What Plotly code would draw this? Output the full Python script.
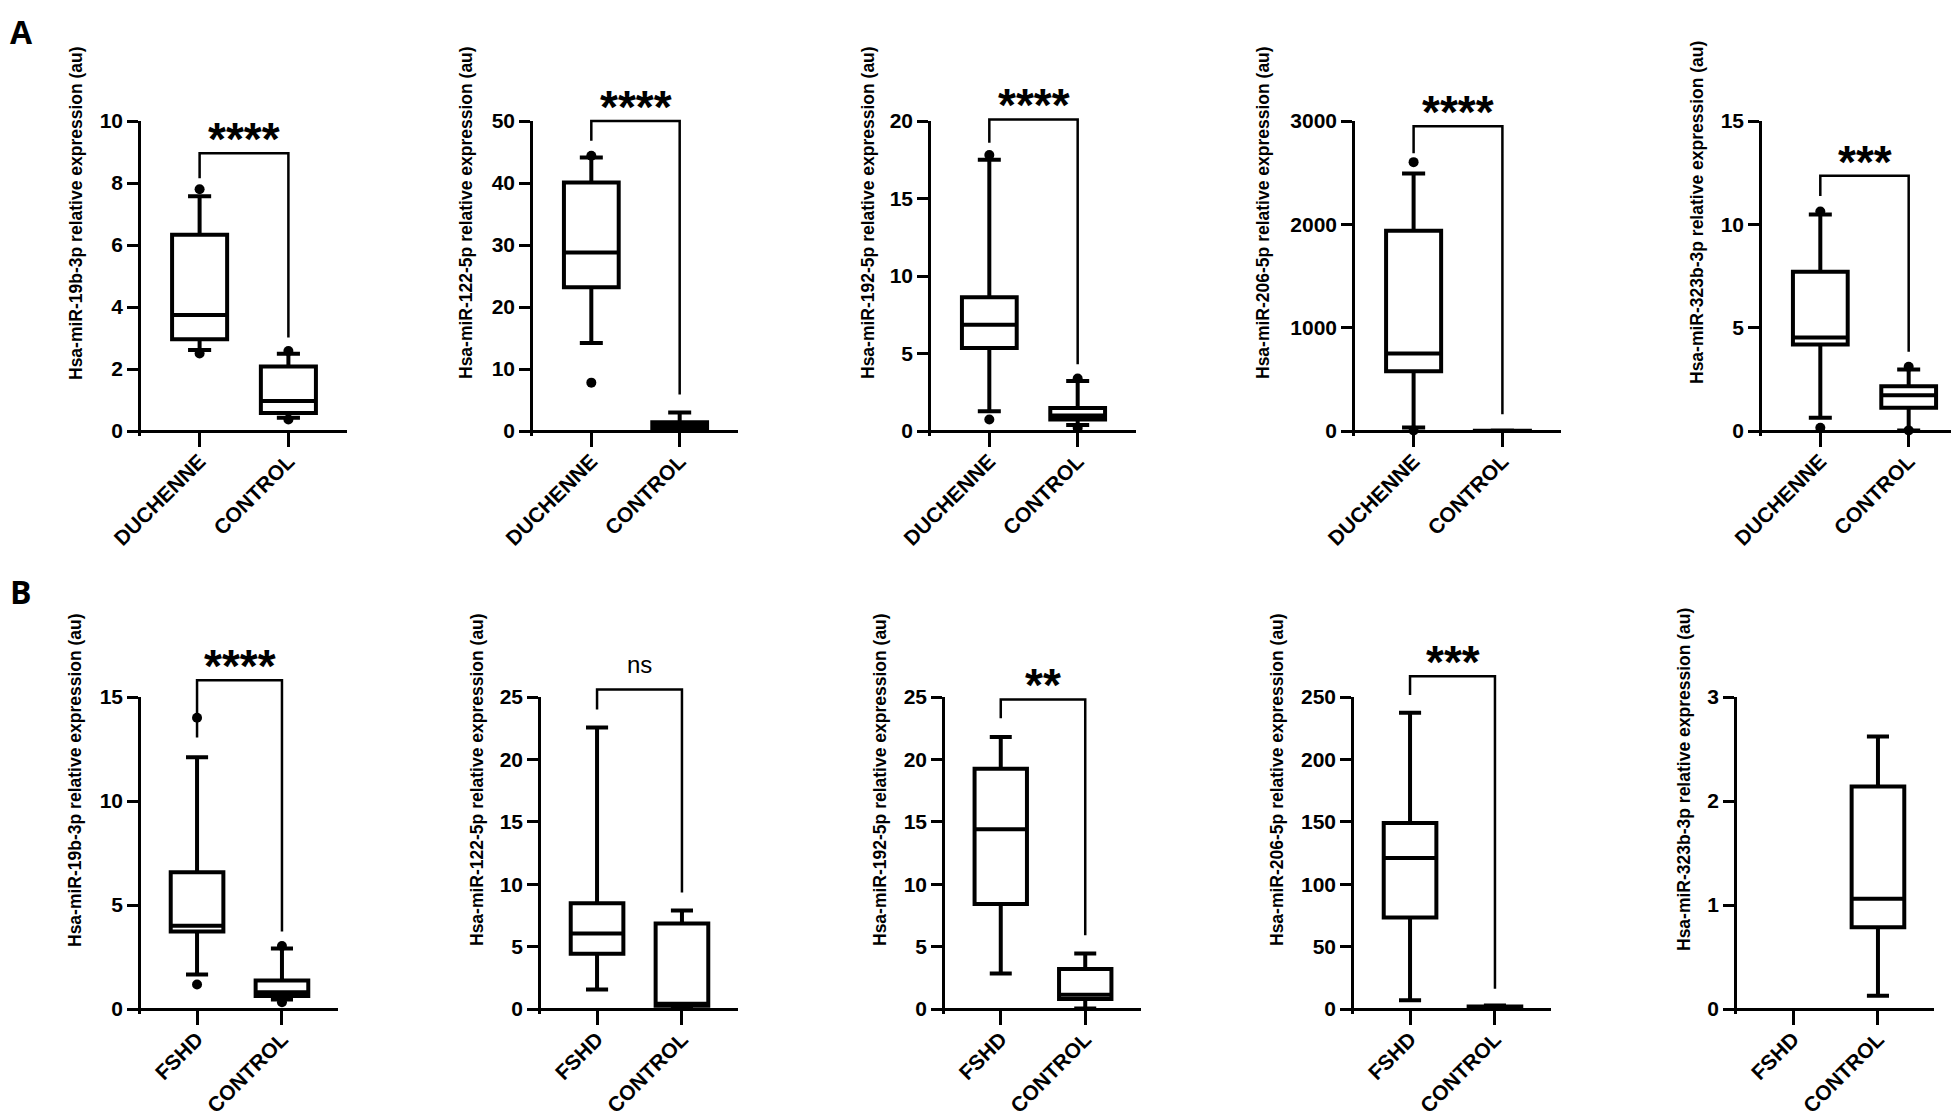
import plotly.graph_objects as go

W, H = 1959, 1118

# ---------------- data ----------------
groups_A = ["DUCHENNE", "CONTROL"]
groups_B = ["FSHD", "CONTROL"]

mirnas = ["Hsa-miR-19b-3p", "Hsa-miR-122-5p", "Hsa-miR-192-5p", "Hsa-miR-206-5p", "Hsa-miR-323b-3p"]

# Row A (DUCHENNE vs CONTROL)
A_ymax = [10, 50, 20, 3000, 15]
A_dtick = [2, 10, 5, 1000, 5]
A_q1 = [[2.96, 0.58], [23.2, 0.5], [5.35, 0.74], [578, 0.5], [4.19, 1.12]]
A_med = [[3.74, 0.97], [28.8, 0.9], [6.85, 1.0], [751, 1.5], [4.53, 1.73]]
A_q3 = [[6.33, 2.08], [40.1, 1.4], [8.63, 1.48], [1938, 3.0], [7.7, 2.16]]
A_lo = [[2.61, 0.43], [14.2, 0.2], [1.27, 0.39], [35, 0.1], [0.64, 0.03]]
A_hi = [[7.57, 2.49], [44.1, 3.0], [17.5, 3.23], [2491, 6.0], [10.47, 2.98]]
A_out = [[[7.8, 2.5], [2.58, 0.37]],
         [[44.4, 7.8], []],
         [[17.8, 0.74], [3.39, 0.2]],
         [[2602, 5], []],
         [[10.62, 0.16], [3.11, 0.03]]]
A_sig = ["****", "****", "****", "****", "***"]
A_bracket = [[8.96, 8.15, 3.02], [50.0, 46.8, 5.9], [20.1, 18.6, 4.3],
             [2948, 2689, 163], [12.35, 11.37, 3.84]]

# Row B (FSHD vs CONTROL)
B_ymax = [15, 25, 25, 250, 3]
B_dtick = [5, 5, 5, 50, 1]
B_q1 = [[3.72, 0.63], [4.42, 0.26], [8.42, 0.8], [73.3, 0.5], [None, 0.785]]
B_med = [[4.0, 0.8], [6.05, 0.43], [14.4, 1.15], [121, 1.2], [None, 1.06]]
B_q3 = [[6.58, 1.37], [8.48, 6.85], [19.26, 3.2], [149, 2.0], [None, 2.14]]
B_lo = [[1.66, 0.46], [1.57, 0.14], [2.85, 0.05], [7.1, 0.2], [None, 0.127]]
B_hi = [[12.1, 2.91], [22.55, 7.9], [21.8, 4.45], [237.4, 2.8], [None, 2.62]]
B_out = [[[14.0, 1.18], [3.03, 0.33]], [[], []], [[], []], [[], []], [[], []]]
B_sig = ["****", "ns", "**", "***", None]
B_bracket = [[15.8, 13.05, 3.72], [25.6, 24.0, 9.33], [24.8, 23.3, 5.9],
             [266.6, 251.7, 16.3], None]

# ---------------- layout geometry (pixels) ----------------
ROW_Y = {"A": (113, 423), "B": (689, 1001)}
PANEL_X = {"A": [(133, 339), (525, 730), (923, 1128), (1347, 1553), (1754, 1959)],
           "B": [(133, 330), (533, 730), (937, 1133), (1346, 1543), (1729, 1926)]}
TITLE_X = {"A": [68, 458, 860, 1255, 1689], "B": [67, 469, 872, 1269, 1676]}
TITLE_Y = {"A": 205, "B": 772}
XMIN, XMAX = -0.66, 1.66
EXT = 0.015

FONT = "Liberation Sans, Arial, sans-serif"
BLACK = "#000000"

fig = go.Figure()
layout = dict(
    width=W, height=H,
    margin=dict(l=0, r=0, t=0, b=0, pad=0, autoexpand=False),
    paper_bgcolor="white", plot_bgcolor="white",
    showlegend=False,
    font=dict(family=FONT, color=BLACK),
)
shapes = []
annotations = []


def px2paper_x(px):
    return px / W


def px2paper_y(py):
    return 1 - py / H


rows = [
    ("A", groups_A, A_ymax, A_dtick, A_q1, A_med, A_q3, A_lo, A_hi, A_out, A_sig, A_bracket),
    ("B", groups_B, B_ymax, B_dtick, B_q1, B_med, B_q3, B_lo, B_hi, B_out, B_sig, B_bracket),
]

k = 0
for (row, groups, ymaxs, dticks, q1s, meds, q3s, los, his, outs, sigs, brackets) in rows:
    ytop, y0 = ROW_Y[row]
    for i in range(5):
        k += 1
        xl, xr = PANEL_X[row][i]
        ymax = ymaxs[i]
        xa = "x" if k == 1 else f"x{k}"
        ya = "y" if k == 1 else f"y{k}"
        xkey = "xaxis" if k == 1 else f"xaxis{k}"
        ykey = "yaxis" if k == 1 else f"yaxis{k}"

        ybottom_px = y0 + EXT * (y0 - ytop)
        layout[xkey] = dict(
            domain=[px2paper_x(xl), min(1.0, px2paper_x(xr))],
            anchor="free", position=px2paper_y(y0),
            type="category", categoryorder="array", categoryarray=groups,
            range=[XMIN, XMAX], automargin=False,
            showline=True, linewidth=2.5, linecolor=BLACK,
            ticks="outside", ticklen=14, tickwidth=2.5, tickcolor=BLACK,
            tickangle=-45, ticklabelstandoff=-6, showgrid=False, zeroline=False,
            tickfont=dict(family=FONT, size=21, color=BLACK, weight="bold"),
        )
        layout[ykey] = dict(
            domain=[px2paper_y(ybottom_px), px2paper_y(ytop)],
            anchor=xa, automargin=False,
            range=[-EXT * ymax, ymax],
            tickmode="linear", tick0=0, dtick=dticks[i],
            showline=True, linewidth=2.5, linecolor=BLACK,
            ticks="outside", ticklen=11, tickwidth=2.5, tickcolor=BLACK,
            showgrid=False, zeroline=False,
            tickfont=dict(family=FONT, size=21, color=BLACK, weight="bold"),
        )

        # boxes
        bx, bq1, bmed, bq3, blo, bhi = [], [], [], [], [], []
        for g in range(2):
            if q1s[i][g] is None:
                continue
            bx.append(groups[g])
            bq1.append(q1s[i][g])
            bmed.append(meds[i][g])
            bq3.append(q3s[i][g])
            blo.append(los[i][g])
            bhi.append(his[i][g])
        fig.add_trace(go.Box(
            x=bx, q1=bq1, median=bmed, q3=bq3, lowerfence=blo, upperfence=bhi,
            xaxis=xa, yaxis=ya, boxpoints=False, width=0.62, whiskerwidth=0.42,
            line=dict(color=BLACK, width=4), fillcolor="white",
        ))

        # outlier dots
        ox, oy = [], []
        for g in range(2):
            for v in outs[i][g]:
                ox.append(groups[g])
                oy.append(v)
        if ox:
            fig.add_trace(go.Scatter(
                x=ox, y=oy, mode="markers", xaxis=xa, yaxis=ya, cliponaxis=False,
                marker=dict(color=BLACK, size=10),
            ))

        # value -> paper helpers for this panel
        def vy(v, ymax=ymax, ytop=ytop, y0=y0):
            return px2paper_y(y0 - v / ymax * (y0 - ytop))

        def cx(c, xl=xl, xr=xr):
            return px2paper_x(xl + (c - XMIN) / (XMAX - XMIN) * (min(xr, W) - xl))

        # significance bracket
        if brackets[i] is not None:
            top, left_end, right_end = brackets[i]
            pts = [(cx(0), vy(left_end)), (cx(0), vy(top)), (cx(1), vy(top)), (cx(1), vy(right_end))]
            path = "M " + " L ".join(f"{x:.5f},{y:.5f}" for x, y in pts)
            shapes.append(dict(type="path", path=path, xref="paper", yref="paper",
                               line=dict(color=BLACK, width=2.5)))
            sig = sigs[i]
            if sig == "ns":
                annotations.append(dict(text="ns", x=cx(0.5), y=vy(top), xref="paper", yref="paper",
                                        yshift=10, xanchor="center", yanchor="bottom", showarrow=False,
                                        font=dict(family=FONT, size=24, color=BLACK)))
            else:
                annotations.append(dict(text=sig, x=cx(0.5), y=vy(top), xref="paper", yref="paper",
                                        yshift=-14, xanchor="center", yanchor="bottom", showarrow=False,
                                        font=dict(family=FONT, size=46, color=BLACK, weight="bold")))

        # y-axis title
        annotations.append(dict(text=f"{mirnas[i]} relative expression (au)",
                                x=px2paper_x(TITLE_X[row][i]), y=px2paper_y(TITLE_Y[row]),
                                xref="paper", yref="paper", textangle=-90, showarrow=False,
                                xanchor="center", yanchor="middle",
                                font=dict(family=FONT, size=17.5, color=BLACK, weight="bold")))

# panel letters
annotations.append(dict(text="A", x=px2paper_x(0), y=px2paper_y(0), xref="paper", yref="paper",
                        xanchor="left", yanchor="top", showarrow=False,
                        font=dict(family="Open Sans, " + FONT, size=32, color=BLACK, weight="bold")))
annotations.append(dict(text="B", x=px2paper_x(0), y=px2paper_y(560), xref="paper", yref="paper",
                        xanchor="left", yanchor="top", showarrow=False,
                        font=dict(family="Open Sans, " + FONT, size=32, color=BLACK, weight="bold")))

layout["shapes"] = shapes
layout["annotations"] = annotations
fig.update_layout(**layout)
fig.write_html("out.html")
